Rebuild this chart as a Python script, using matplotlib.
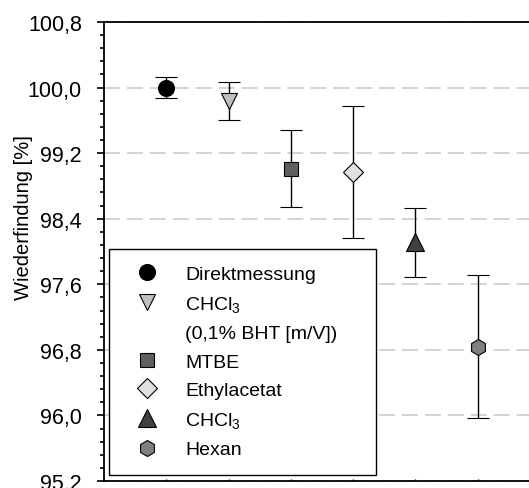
import numpy as np
import matplotlib
matplotlib.use("Agg")
import matplotlib.pyplot as plt
from matplotlib.lines import Line2D
from matplotlib.ticker import FixedLocator, FuncFormatter

plt.rcParams['font.family'] = ['Liberation Sans', 'DejaVu Sans']
plt.rcParams['mathtext.fontset'] = 'custom'
plt.rcParams['mathtext.rm'] = 'Liberation Sans'
plt.rcParams['mathtext.it'] = 'Liberation Sans'

# data
labels = ["Direktmessung", "CHCl$_3$", "MTBE", "Ethylacetat", "CHCl$_3$", "Hexan"]
x_pos = [1, 2, 3, 4, 5, 6]
values = [100.00, 99.84, 99.01, 98.97, 98.11, 96.84]
errors = [0.13, 0.23, 0.47, 0.80, 0.42, 0.87]
y_ticks = [95.2, 96.0, 96.8, 97.6, 98.4, 99.2, 100.0, 100.8]
y_label = "Wiederfindung [%]"
bht_note = "(0,1% BHT [m/V])"

markers = ['o', 'v', 's', 'D', '^', 'h']
colors = ['#000000', '#c0c0c0', '#5f5f5f', '#e0e0e0', '#404040', '#808080']
msizes = [11.5, 12, 10, 10.5, 12.5, 11.5]

fig = plt.figure(figsize=(5.29, 4.89), dpi=100)
ax = fig.add_axes([104/529, 7/489, 436/529, 459/489])

for x, v, e, m, c, s in zip(x_pos, values, errors, markers, colors, msizes):
    ax.errorbar(x, v, yerr=e, fmt=m, color='black', mfc=c, mec='black',
                mew=0.8, ms=s, ecolor='black', elinewidth=1.0, capsize=8,
                capthick=1.0, zorder=3)

ax.set_xlim(0, 7)
ax.set_ylim(95.2, 100.8)
ax.yaxis.set_major_locator(FixedLocator(y_ticks))
ax.yaxis.set_minor_locator(FixedLocator(np.linspace(95.2, 100.8, 36)))
ax.yaxis.set_major_formatter(FuncFormatter(lambda v, p: f"{v:.1f}".replace('.', ',')))
ax.xaxis.set_major_locator(FixedLocator(x_pos))
ax.set_xticklabels([])
ax.tick_params(axis='x', direction='in', length=1.8, width=1.0, top=False)
ax.tick_params(axis='y', which='major', direction='out', length=5, width=1.2,
               labelsize=15.5, pad=11)
ax.tick_params(axis='y', which='minor', direction='out', length=3.2, width=1.2)
for sp in ax.spines.values():
    sp.set_linewidth(1.3)
ax.spines['right'].set_visible(False)

ax.set_axisbelow(True)
ax.grid(axis='y', which='major', color='#c8c8c8', linewidth=1.1,
        linestyle=(0, (10.5, 4.5)))
ax.set_ylabel(y_label, fontsize=14.5)
ax.yaxis.set_label_coords(-0.163, 0.576)

handles = []
leg_labels = []
for i, (m, c, s) in enumerate(zip(markers, colors, msizes)):
    handles.append(Line2D([], [], linestyle='none', marker=m, mfc=c, mec='black',
                          mew=0.8, ms=s))
    leg_labels.append(labels[i])
    if i == 1:
        handles.append(Line2D([], [], linestyle='none'))
        leg_labels.append(bht_note)

leg = ax.legend(handles, leg_labels, loc='lower left',
                bbox_to_anchor=(5/436, 6/459, 267/436, 225/459), mode='expand',
                borderaxespad=0, fontsize=14, frameon=True, fancybox=False,
                edgecolor='black', framealpha=1, numpoints=1,
                handlelength=2.2, handletextpad=0.87, borderpad=0.85,
                labelspacing=0.56)
leg.get_frame().set_linewidth(1.0)

fig.savefig("out.png", dpi=100)
